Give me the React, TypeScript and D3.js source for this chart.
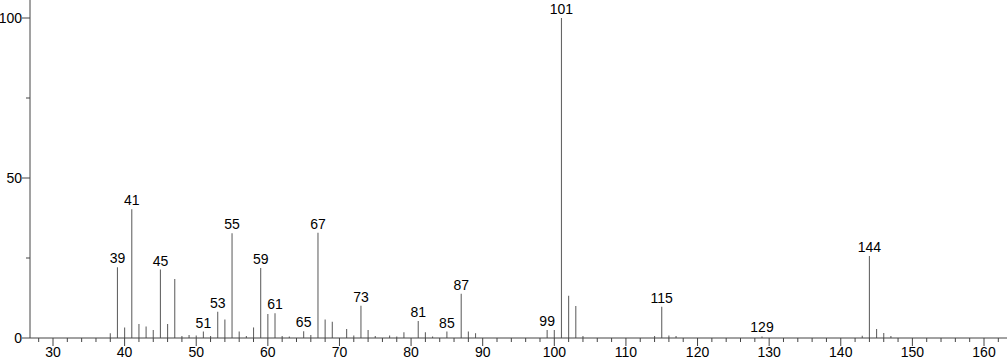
import React from "react";
import * as d3 from "d3";

const mzValues = [38, 39, 40, 41, 42, 43, 44, 45, 46, 47, 48, 49, 50, 51, 52, 53, 54, 55, 56, 57, 58, 59, 60, 61, 62, 63, 65, 66, 67, 68, 69, 71, 72, 73, 74, 75, 77, 78, 79, 81, 82, 83, 85, 87, 88, 89, 99, 100, 101, 102, 103, 104, 114, 115, 116, 117, 129, 143, 144, 145, 146, 147];
const intensities = [1.5, 22.1, 3.3, 40.2, 4.4, 3.6, 2.5, 21.4, 4.4, 18.4, 0.6, 0.9, 0.8, 2.0, 0.6, 8.2, 5.8, 32.7, 2.0, 0.6, 3.3, 21.9, 7.5, 7.7, 0.6, 0.5, 2.1, 0.9, 32.9, 5.8, 5.1, 2.8, 0.8, 10.1, 2.5, 0.6, 0.8, 0.5, 1.8, 5.3, 1.8, 0.5, 2.0, 13.8, 2.0, 1.5, 2.5, 2.5, 100, 13.2, 10.0, 0.6, 0.6, 9.8, 0.8, 0.6, 0.5, 0.7, 25.6, 2.8, 1.6, 0.6];
const labeledPeaks = [39, 41, 45, 51, 53, 55, 59, 61, 65, 67, 73, 81, 85, 87, 99, 101, 115, 129, 144];
const xMajorTicks = [30, 40, 50, 60, 70, 80, 90, 100, 110, 120, 130, 140, 150, 160];
const yMajorTicks = [0, 50, 100];

const W = 1007;
const H = 362;

export default function App() {
  const x = d3.scaleLinear().domain([30, 160]).range([53, 984]);
  const y = d3.scaleLinear().domain([0, 100]).range([338, 18]);
  const axisX = 30;
  const baseY = y(0);
  const xMinor = d3.range(28, 163, 2).filter((v) => v % 10 !== 0);
  const yMinor = [25, 75];
  const font = "'Liberation Sans', Arial, sans-serif";

  return (
    <svg width={W} height={H} style={{ position: "absolute", left: 0, top: 0, background: "#fff" }}>
      {mzValues.map((m, i) => (
        <line key={"p" + m} x1={x(m)} x2={x(m)} y1={baseY} y2={y(intensities[i])} stroke="#666" strokeWidth={1.1} />
      ))}
      <line x1={axisX} x2={W} y1={baseY} y2={baseY} stroke="#444" strokeWidth={1} />
      <line x1={axisX} x2={axisX} y1={0} y2={baseY} stroke="#444" strokeWidth={1} />
      {xMajorTicks.map((t) => (
        <g key={"xt" + t}>
          <line x1={x(t)} x2={x(t)} y1={baseY} y2={baseY + 8} stroke="#444" />
          <text x={x(t)} y={baseY + 19} textAnchor="middle" fontFamily={font} fontSize={14} fill="#000">{t}</text>
        </g>
      ))}
      {xMinor.map((t) => (
        <line key={"xm" + t} x1={x(t)} x2={x(t)} y1={baseY} y2={baseY + 4} stroke="#444" />
      ))}
      {yMajorTicks.map((t) => (
        <g key={"yt" + t}>
          <line x1={axisX - 8} x2={axisX} y1={y(t)} y2={y(t)} stroke="#444" />
          <text x={axisX - 8} y={y(t) + 5} textAnchor="end" fontFamily={font} fontSize={14} fill="#000">{t}</text>
        </g>
      ))}
      {yMinor.map((t) => (
        <line key={"ym" + t} x1={axisX - 4} x2={axisX} y1={y(t)} y2={y(t)} stroke="#444" />
      ))}
      {labeledPeaks.map((m) => {
        const v = intensities[mzValues.indexOf(m)];
        return (
          <text key={"l" + m} x={x(m)} y={y(v) - 4} textAnchor="middle" fontFamily={font} fontSize={14} fill="#000">{m}</text>
        );
      })}
    </svg>
  );
}
